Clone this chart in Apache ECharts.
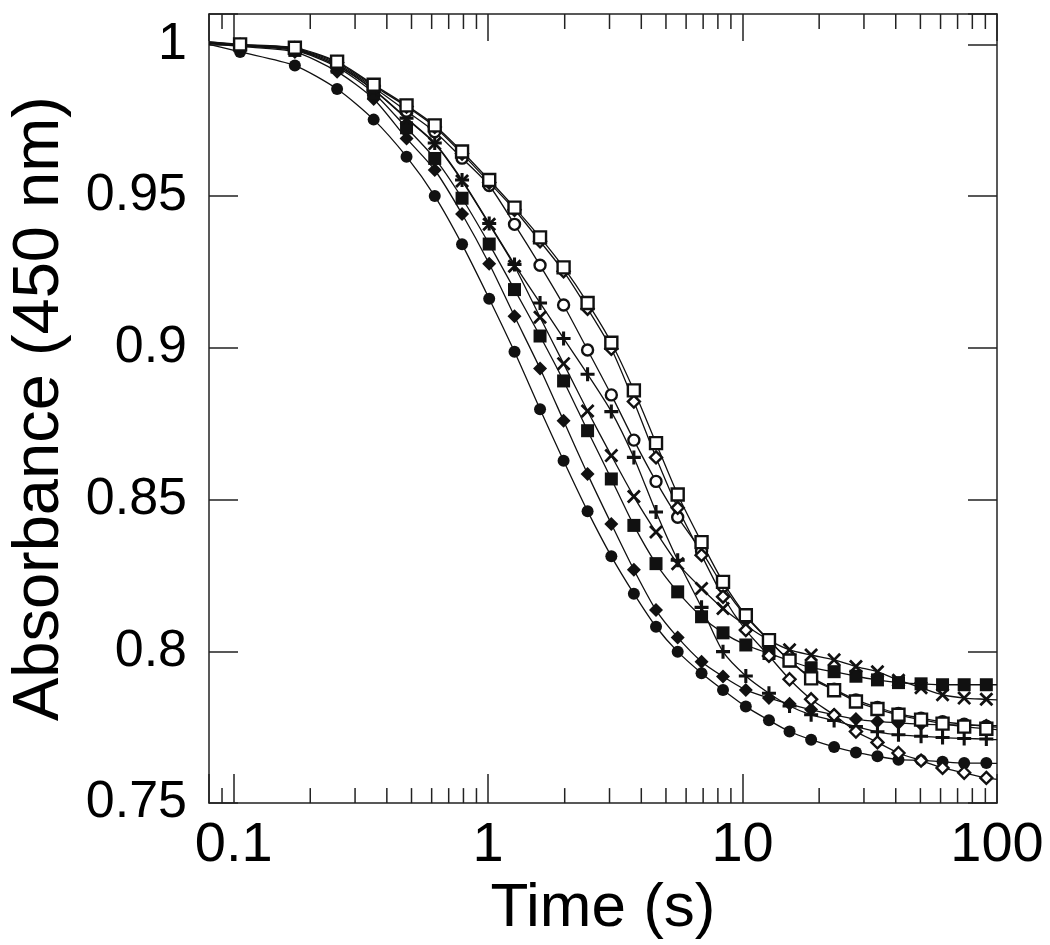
<!DOCTYPE html>
<html><head><meta charset="utf-8">
<script src="https://cdn.jsdelivr.net/npm/echarts@6/dist/echarts.min.js"></script>
<style>html,body{margin:0;padding:0;background:#fff}#c{width:1050px;height:945px}</style>
</head><body><div id="c"></div>
<script>
// time points (s) where markers are drawn
const times = [0.106, 0.174, 0.255, 0.355, 0.478, 0.617, 0.79, 1.01, 1.27, 1.6, 1.98, 2.46, 3.05, 3.74, 4.57, 5.56, 6.9, 8.38, 10.3, 12.7, 15.3, 18.6, 22.9, 27.9, 33.9, 41.0, 50.3, 61.1, 74.3, 90.8];
// trace ends (left edge / right edge of the window)
const edgeTimes = [0.08, 100];

const openSquare    = [1.0, 0.9989, 0.9943, 0.9867, 0.9799, 0.9733, 0.9647, 0.9553, 0.9462, 0.9364, 0.9265, 0.9148, 0.9017, 0.886, 0.8686, 0.8517, 0.836, 0.8229, 0.8119, 0.8037, 0.797, 0.7911, 0.7872, 0.7835, 0.781, 0.7791, 0.7775, 0.7762, 0.7752, 0.7745];
const openSquareEnds = [1.0008, 0.7742];
const openDiamond   = [0.9998, 0.9987, 0.994, 0.9863, 0.9795, 0.9728, 0.964, 0.9545, 0.9455, 0.9351, 0.9252, 0.9129, 0.8997, 0.8823, 0.8639, 0.8473, 0.8317, 0.818, 0.807, 0.7985, 0.7908, 0.7842, 0.779, 0.7736, 0.770, 0.7665, 0.764, 0.7616, 0.760, 0.7583];
const openDiamondEnds = [1.0008, 0.7578];
const openCircle    = [0.9997, 0.9985, 0.9935, 0.9858, 0.978, 0.9712, 0.9625, 0.9535, 0.9407, 0.9272, 0.9141, 0.8993, 0.8845, 0.8696, 0.856, 0.8442, 0.833, 0.8215, 0.8115, 0.8035, 0.797, 0.7915, 0.7875, 0.784, 0.7815, 0.7795, 0.778, 0.7768, 0.776, 0.7753];
const openCircleEnds = [1.0006, 0.775];
const cross         = [0.9997, 0.9983, 0.993, 0.985, 0.9755, 0.9673, 0.955, 0.9407, 0.9269, 0.9101, 0.8948, 0.8792, 0.8645, 0.851, 0.8393, 0.8289, 0.8207, 0.8141, 0.8085, 0.8037, 0.8005, 0.7988, 0.7972, 0.795, 0.7933, 0.7905, 0.788, 0.7857, 0.7846, 0.7842];
const crossEnds = [1.0005, 0.784];
const plus          = [0.9997, 0.9983, 0.993, 0.985, 0.9757, 0.9675, 0.9553, 0.941, 0.9275, 0.9148, 0.9031, 0.8913, 0.879, 0.8639, 0.8459, 0.830, 0.8145, 0.7999, 0.7919, 0.7862, 0.782, 0.7791, 0.7772, 0.7752, 0.7735, 0.7725, 0.772, 0.7716, 0.7713, 0.7711];
const plusEnds = [1.0005, 0.7709];
const filledSquare  = [0.9995, 0.998, 0.9925, 0.984, 0.9725, 0.9624, 0.9493, 0.9342, 0.9192, 0.9039, 0.8891, 0.8727, 0.8568, 0.8415, 0.8289, 0.8196, 0.8114, 0.8061, 0.8021, 0.7993, 0.7969, 0.7946, 0.7933, 0.7918, 0.7906, 0.7897, 0.7893, 0.789, 0.789, 0.789];
const filledSquareEnds = [1.0004, 0.789];
const filledDiamond = [0.9993, 0.9975, 0.991, 0.982, 0.969, 0.9586, 0.9441, 0.9277, 0.9104, 0.8932, 0.876, 0.8584, 0.842, 0.8269, 0.8136, 0.8046, 0.7966, 0.7917, 0.7873, 0.7846, 0.7827, 0.7808, 0.7791, 0.7777, 0.7769, 0.7764, 0.776, 0.7758, 0.7757, 0.7756];
const filledDiamondEnds = [1.0003, 0.7755];
const filledCircle  = [0.9975, 0.993, 0.9853, 0.9752, 0.963, 0.950, 0.9341, 0.9162, 0.8987, 0.8798, 0.8628, 0.8462, 0.8313, 0.819, 0.8081, 0.7999, 0.7928, 0.7873, 0.7818, 0.7773, 0.7736, 0.7709, 0.7685, 0.7667, 0.7654, 0.7643, 0.7641, 0.7636, 0.7632, 0.7632];
const filledCircleEnds = [1.0, 0.7631];

// axis ticks and labels
const xTickValues = [0.1, 1, 10, 100];
const xTickLabels = ['0.1', '1', '10', '100'];
const xMinorTicks = [0.09, 0.2, 0.3, 0.4, 0.5, 0.6, 0.7, 0.8, 0.9, 2, 3, 4, 5, 6, 7, 8, 9, 20, 30, 40, 50, 60, 70, 80, 90];
const yTickValues = [0.75, 0.8, 0.85, 0.9, 0.95, 1.0];
const yTickLabels = ['0.75', '0.8', '0.85', '0.9', '0.95', '1'];

const INK = '#111';
const AX = '#222';
const plusPath = 'path://M3.9,0H6.1V3.9H10V6.1H6.1V10H3.9V6.1H0V3.9H3.9Z';
const crossPath = 'path://M0,1.4L1.4,0L5,3.6L8.6,0L10,1.4L6.4,5L10,8.6L8.6,10L5,6.4L1.4,10L0,8.6L3.6,5Z';

function buildData(vals, ends) {
  const d = [{value: [edgeTimes[0], ends[0]], symbol: 'none'}];
  times.forEach((t, i) => d.push([t, vals[i]]));
  d.push({value: [edgeTimes[1], ends[1]], symbol: 'none'});
  return d;
}
function mk(name, vals, ends, symbol, size, open, z) {
  return {
    name, type: 'line', data: buildData(vals, ends), smooth: 0.25,
    symbol, symbolSize: size, showSymbol: true, showAllSymbol: true,
    lineStyle: {color: INK, width: 1.3},
    itemStyle: open ? {color: '#fff', borderColor: INK, borderWidth: 2.4} : {color: INK, borderWidth: 0},
    z: z, animation: false, clip: true
  };
}

function xLabel(v) {
  const i = xTickValues.findIndex(t => Math.abs(Math.log10(t) - Math.log10(v)) < 1e-6);
  return i >= 0 ? xTickLabels[i] : '';
}
function yLabel(v) {
  const i = yTickValues.findIndex(t => Math.abs(t - v) < 1e-6);
  return i >= 0 ? yTickLabels[i] : '';
}

const chart = echarts.init(document.getElementById('c'), null, {renderer: 'canvas'});
const font = '"Liberation Sans", Arial, Helvetica, sans-serif';
const option = {
  backgroundColor: '#fff',
  animation: false,
  grid: {left: 206, top: 14, right: 53, bottom: 138, containLabel: false},
  xAxis: [
    {type: 'log', logBase: 10, min: 0.08, max: 100, position: 'bottom',
     name: 'Time (s)', nameLocation: 'middle', nameGap: 60,
     nameTextStyle: {fontFamily: font, fontSize: 62, color: '#000', lineHeight: 62},
     axisLine: {show: true, lineStyle: {color: AX, width: 1.5}},
     axisTick: {show: true, inside: true, length: 29, lineStyle: {color: AX, width: 1.5}},
     minorTick: {show: false}, splitLine: {show: false},
     axisLabel: {formatter: xLabel, fontFamily: font, fontSize: 56, color: '#000', margin: 14, lineHeight: 56, showMinLabel: true, showMaxLabel: true}},
    {type: 'log', logBase: 10, min: 0.08, max: 100, position: 'top',
     axisLine: {show: true, lineStyle: {color: AX, width: 1.5}},
     axisTick: {show: true, inside: true, length: 27, lineStyle: {color: AX, width: 1.5}},
     axisLabel: {show: false}, splitLine: {show: false}}
  ],
  yAxis: [
    {type: 'value', min: 0.75, max: 1.01, interval: 0.05, position: 'left',
     name: 'Absorbance (450 nm)', nameLocation: 'middle', nameGap: 136,
     nameTextStyle: {fontFamily: font, fontSize: 65, color: '#000', lineHeight: 65},
     axisLine: {show: true, lineStyle: {color: AX, width: 1.5}},
     axisTick: {show: true, inside: true, length: 29, lineStyle: {color: AX, width: 1.5}},
     splitLine: {show: false},
     axisLabel: {formatter: yLabel, fontFamily: font, fontSize: 52, color: '#000', margin: 22}},
    {type: 'value', min: 0.75, max: 1.01, interval: 0.05, position: 'right',
     axisLine: {show: true, lineStyle: {color: AX, width: 1.5}},
     axisTick: {show: true, inside: true, length: 29, lineStyle: {color: AX, width: 1.5}},
     splitLine: {show: false}, axisLabel: {show: false}}
  ],
  series: [
    {type: 'custom', name: 'minorTicks', xAxisIndex: 0, yAxisIndex: 0, silent: true, clip: false, z: 5,
     data: xMinorTicks.map(t => [t, 0.8]),
     renderItem: function (params, api) {
       const cs = params.coordSys;
       const x = api.coord([api.value(0), api.value(1)])[0];
       const yb = cs.y + cs.height, yt = cs.y;
       const st = {stroke: AX, lineWidth: 1.5};
       return {type: 'group', children: [
         {type: 'line', shape: {x1: x, y1: yb, x2: x, y2: yb - 15}, style: st},
         {type: 'line', shape: {x1: x, y1: yt, x2: x, y2: yt + 15}, style: st}
       ]};
     }},
    mk('filledCircle', filledCircle, filledCircleEnds, 'circle', 12, false, 3),
    mk('filledDiamond', filledDiamond, filledDiamondEnds, 'diamond', 14, false, 3),
    mk('filledSquare', filledSquare, filledSquareEnds, 'rect', 13, false, 3),
    mk('plus', plus, plusEnds, plusPath, 14, false, 3),
    mk('cross', cross, crossEnds, crossPath, 14, false, 3),
    mk('openCircle', openCircle, openCircleEnds, 'circle', 11, true, 4),
    mk('openDiamond', openDiamond, openDiamondEnds, 'diamond', 12, true, 4),
    mk('openSquare', openSquare, openSquareEnds, 'rect', 12, true, 4)
  ]
};
chart.setOption(option);
</script></body></html>
